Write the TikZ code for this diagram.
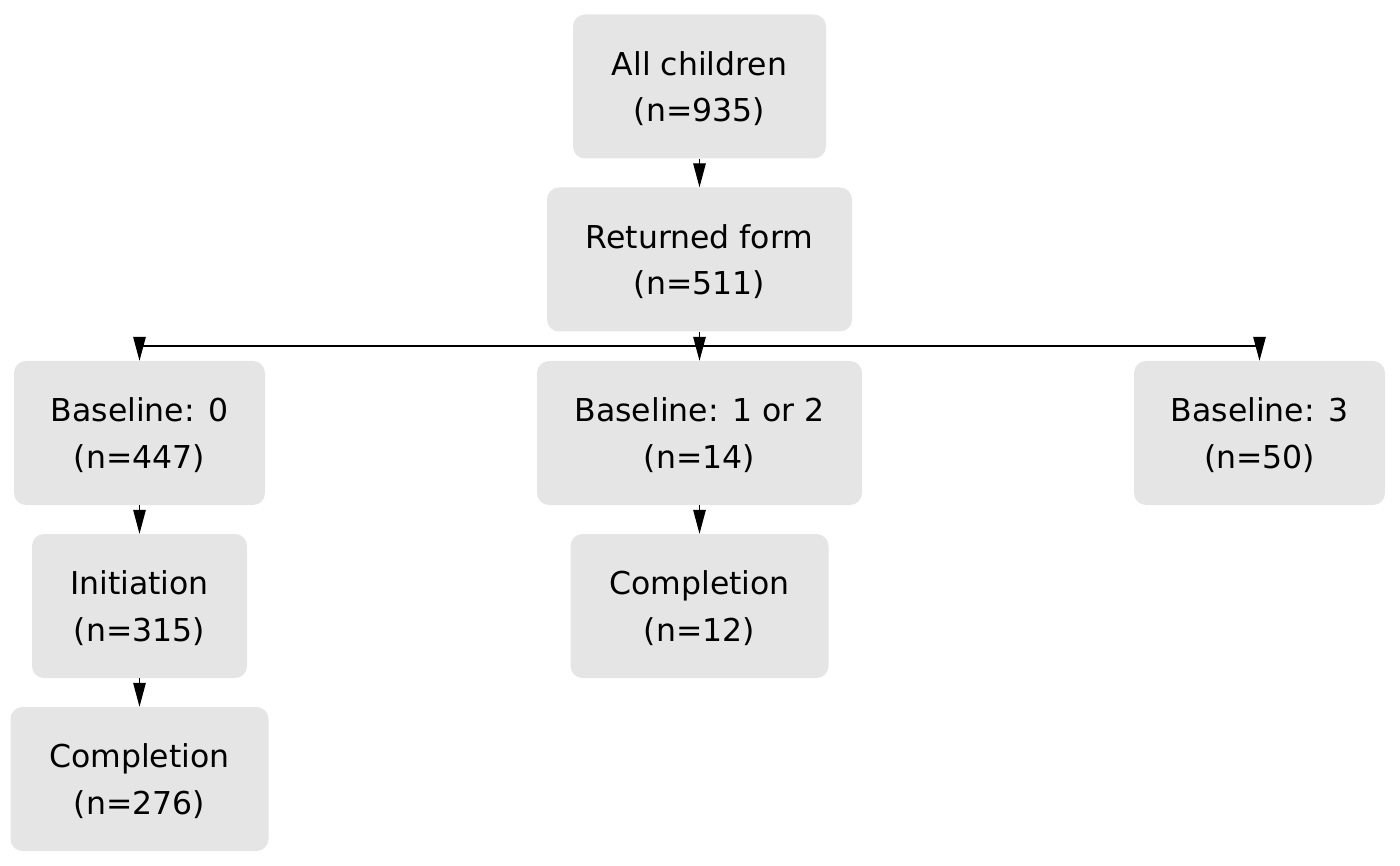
\documentclass[tikz,border=0pt]{standalone}
\usepackage{fontspec}
\setmainfont{DejaVu Sans}
\usetikzlibrary{arrows.meta}
\definecolor{boxgray}{HTML}{E5E5E5}
\newcommand{\toppad}{\rule{0pt}{28pt}}
\begin{document}
\begin{tikzpicture}[x=1pt,y=-1pt,
  box/.style={fill=boxgray,rounded corners=12pt,inner sep=0pt,minimum height=144pt,
    align=center,font=\fontsize{31.5}{46.7}\selectfont},
  conn/.style={line width=1.3pt,-{Triangle[length=24pt,width=12.5pt]}},
  plain/.style={line width=1.3pt}]
\useasboundingbox (0,0) rectangle (1400,866);
\node[box,minimum width=253pt] (all) at (699.5,86.5) {\toppad All children\\(n=935)};
\node[box,minimum width=305pt] (ret) at (699.5,259.5) {\toppad Returned form\\(n=511)};
\node[box,minimum width=251pt] (b0) at (139.5,433) {\toppad Baseline: 0\\(n=447)};
\node[box,minimum width=325pt] (b12) at (699.5,433) {\toppad Baseline: 1 or 2\\(n=14)};
\node[box,minimum width=251pt] (b3) at (1259.5,433) {\toppad Baseline: 3\\(n=50)};
\node[box,minimum width=215pt] (ini) at (139.5,606) {\toppad Initiation\\(n=315)};
\node[box,minimum width=258pt] (c0) at (139.5,779) {\toppad Completion\\(n=276)};
\node[box,minimum width=258pt] (c12) at (699.5,606) {\toppad Completion\\(n=12)};
\coordinate (jm) at (699.5,346);
\coordinate (jl) at (139.5,346);
\coordinate (jr) at (1259.5,346);
\coordinate (sl) at (139.5,337);
\coordinate (sm) at (699.5,337);
\coordinate (sr) at (1259.5,337);
\draw[conn] (all) -- (ret);
\draw[plain] (ret.south) -- (jm);
\draw[plain] (jl) -- (jr);
\draw[conn] (sl) -- (b0.north);
\draw[conn] (sm) -- (b12.north);
\draw[conn] (sr) -- (b3.north);
\draw[conn] (b0) -- (ini);
\draw[conn] (ini) -- (c0);
\draw[conn] (b12) -- (c12);
\end{tikzpicture}
\end{document}
